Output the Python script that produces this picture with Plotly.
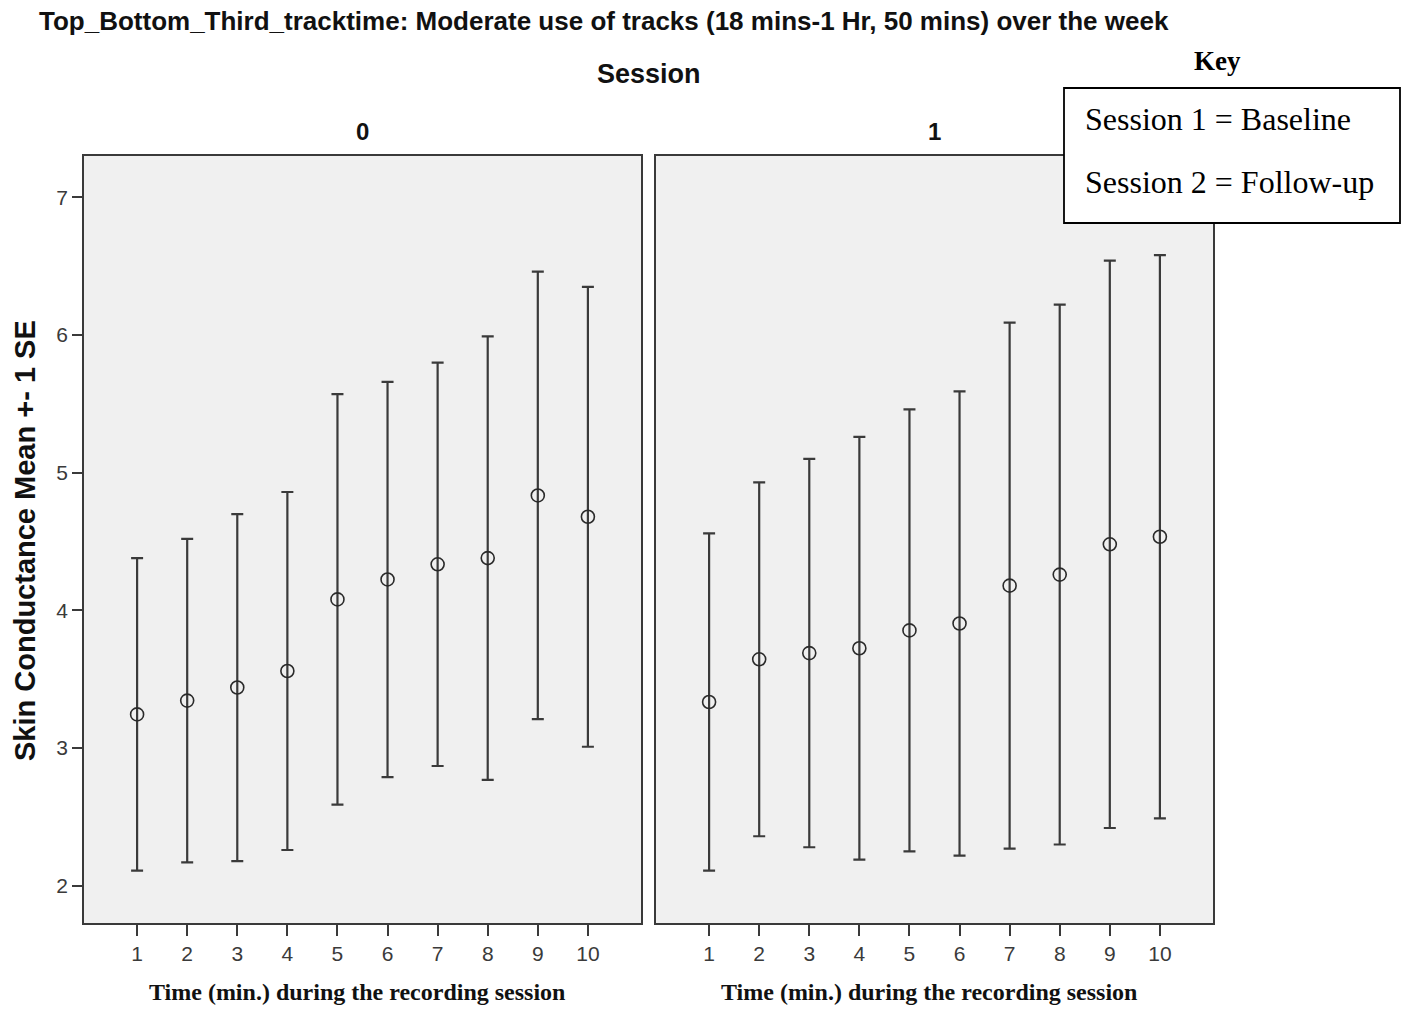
import plotly.graph_objects as go

W, H = 1413, 1010

minutes = [1, 2, 3, 4, 5, 6, 7, 8, 9, 10]
tick_labels = ["1", "2", "3", "4", "5", "6", "7", "8", "9", "10"]
session0_mean = [3.245, 3.345, 3.44, 3.56, 4.08, 4.225, 4.335, 4.38, 4.835, 4.68]
session0_se = [1.135, 1.175, 1.26, 1.30, 1.49, 1.435, 1.465, 1.61, 1.625, 1.67]
session1_mean = [3.335, 3.645, 3.69, 3.725, 3.855, 3.905, 4.18, 4.26, 4.48, 4.535]
session1_se = [1.225, 1.285, 1.41, 1.535, 1.605, 1.685, 1.91, 1.96, 2.06, 2.045]
y_ticks = [2, 3, 4, 5, 6, 7]
panel_labels = ["0", "1"]

title_text = "Top_Bottom_Third_tracktime: Moderate use of tracks (18 mins-1 Hr, 50 mins) over the week"
x_title = "Time (min.) during the recording session"
y_title = "Skin Conductance Mean +- 1 SE"

SANS = "Liberation Sans, Arial, sans-serif"
SERIF = "Liberation Serif, Times New Roman, serif"


def px(x):
    return x / W


def py(y):
    return 1 - y / H


fig = go.Figure()

for i, (m, se) in enumerate([(session0_mean, session0_se), (session1_mean, session1_se)]):
    fig.add_trace(go.Scatter(
        x=minutes, y=m,
        mode="markers",
        marker=dict(symbol="circle-open", size=13, color="#2a2a2a",
                    line=dict(width=1.6, color="#2a2a2a")),
        error_y=dict(type="data", array=se, visible=True, color="#3a3a3a",
                     thickness=2.2, width=6),
        xaxis="x" if i == 0 else "x2",
        yaxis="y" if i == 0 else "y2",
        showlegend=False,
        hoverinfo="x+y",
    ))

axis_common = dict(
    range=[-0.06, 11.06],
    tickmode="array",
    tickvals=minutes,
    ticktext=tick_labels,
    ticks="outside",
    ticklen=11,
    tickwidth=1.8,
    tickcolor="#3a3a3a",
    showgrid=False,
    zeroline=False,
    showline=True,
    mirror=True,
    linecolor="#3a3a3a",
    linewidth=1.8,
    tickfont=dict(family=SANS, size=21, color="#3a3a3a"),
    automargin=False,
    fixedrange=True,
)

yrange = [1.73, 7.30]
ydom = [py(923), py(156)]

fig.update_layout(
    width=W, height=H,
    margin=dict(l=0, r=0, t=0, b=0),
    paper_bgcolor="white",
    plot_bgcolor="#f0f0f0",
    xaxis=dict(domain=[px(84), px(641)], anchor="y", **axis_common),
    xaxis2=dict(domain=[px(656), px(1213)], anchor="y2", **axis_common),
    yaxis=dict(domain=ydom, anchor="x", range=yrange, tickmode="array", tickvals=y_ticks,
               ticks="outside", ticklen=10, tickwidth=1.8, tickcolor="#3a3a3a",
               showgrid=False, zeroline=False, showline=True, mirror=True,
               linecolor="#3a3a3a", linewidth=1.8,
               tickfont=dict(family=SANS, size=21, color="#3a3a3a"),
               automargin=False, fixedrange=True),
    yaxis2=dict(domain=ydom, anchor="x2", range=yrange, showticklabels=False, ticks="",
                showgrid=False, zeroline=False, showline=True, mirror=True,
                linecolor="#3a3a3a", linewidth=1.8, automargin=False, fixedrange=True),
    font=dict(family=SANS, color="#111111"),
)

annots = []
annots.append(dict(text="<b>" + title_text + "</b>", x=px(37), y=py(21), xanchor="left", yanchor="middle",
                   font=dict(family=SANS, size=26, color="#111111")))
annots.append(dict(text="<b>Session</b>", x=px(649), y=py(74), xanchor="center", yanchor="middle",
                   font=dict(family=SANS, size=27, color="#111111")))
for lab, cx in zip(panel_labels, [362, 934]):
    annots.append(dict(text="<b>" + lab + "</b>", x=px(cx), y=py(131), xanchor="center", yanchor="middle",
                       font=dict(family=SANS, size=24, color="#111111")))
for cx in [357, 929]:
    annots.append(dict(text="<b>" + x_title + "</b>", x=px(cx), y=py(992), xanchor="center", yanchor="middle",
                       font=dict(family=SERIF, size=24, color="#111111")))
annots.append(dict(text="<b>" + y_title + "</b>", x=px(25), y=py(541), xanchor="center", yanchor="middle",
                   textangle=-90,
                   font=dict(family=SANS, size=29, color="#111111")))
annots.append(dict(text="<b>Key</b>", x=px(1217), y=py(61), xanchor="center", yanchor="middle",
                   font=dict(family=SERIF, size=27, color="#000000")))
annots.append(dict(text="Session 1 = Baseline", x=px(1083), y=py(119), xanchor="left", yanchor="middle",
                   font=dict(family=SERIF, size=32, color="#000000")))
annots.append(dict(text="Session 2 = Follow-up", x=px(1083), y=py(182), xanchor="left", yanchor="middle",
                   font=dict(family=SERIF, size=32, color="#000000")))
for a in annots:
    a.update(xref="paper", yref="paper", showarrow=False)
fig.update_layout(annotations=annots)

fig.add_shape(type="rect", xref="paper", yref="paper",
              x0=px(1064), x1=px(1400), y0=py(223), y1=py(88),
              fillcolor="white", line=dict(color="#000000", width=1.8), layer="above")

# remove the default 8px page margin so the figure fills the window exactly
fig.write_html("out.html", config={"displayModeBar": False},
               post_script="document.body.style.margin='0';document.body.style.overflow='hidden';")
